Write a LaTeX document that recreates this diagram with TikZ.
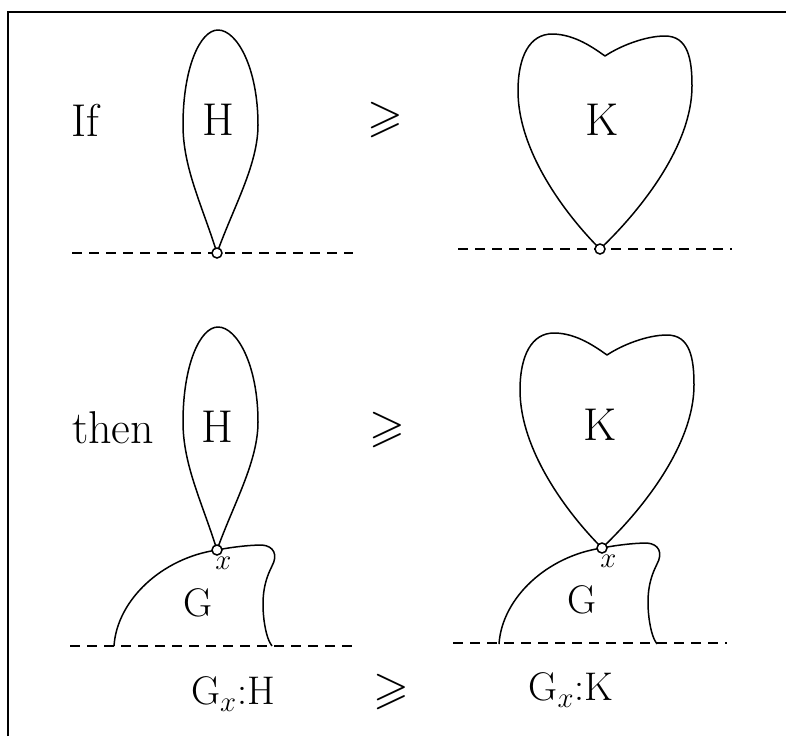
\documentclass[tikz,border=0pt]{standalone}
\usepackage{fontspec}
\usepackage{amssymb}
\usetikzlibrary{positioning}

\begin{document}
\begin{tikzpicture}[
    x=0.5pt, y=-0.5pt,
    curve/.style={line width=0.75pt, line join=round},
    ground/.style={line width=0.6pt, dash pattern=on 5pt off 3.5pt},
    frame/.style={line width=1pt},
    contact/.style={circle, draw, fill=white, line width=0.75pt, inner sep=0pt, minimum size=5pt},
    big/.style={font=\fontsize{23}{23}\selectfont, inner sep=0pt},
    mid/.style={font=\fontsize{20}{20}\selectfont, inner sep=0pt},
    small/.style={font=\fontsize{20}{20}\selectfont, inner sep=0pt},
    tiny/.style={font=\fontsize{15}{15}\selectfont, inner sep=0pt},
    petal/.pic={
        \draw[curve] (0,0) .. controls (-15,-48) and (-34,-85) .. (-34,-128)
            .. controls (-34,-185) and (-17,-223) .. (1,-223)
            .. controls (20,-223) and (41,-185) .. (41,-128)
            .. controls (41,-88) and (16,-45) .. (0,0);
    },
    heart/.pic={
        \draw[curve] (0,0) .. controls (-35,-35) and (-82,-98) .. (-82,-158)
            .. controls (-82,-193) and (-70,-215) .. (-48,-215)
            .. controls (-25,-215) and (-5,-200) .. (5,-193)
            .. controls (20,-203) and (45,-213) .. (65,-213)
            .. controls (88,-213) and (92,-190) .. (92,-163)
            .. controls (92,-103) and (40,-38) .. (0,0);
    },
    blob/.pic={
        \draw[curve] (-103,96) .. controls (-100,50) and (-55,8) .. (0,0)
            .. controls (15,-3) and (33,-5) .. (45,-5)
            .. controls (57,-4) and (61,5) .. (55,16)
            .. controls (48,30) and (44,45) .. (47,70)
            .. controls (49,85) and (52,92) .. (55,96);
    }
]
\useasboundingbox (0,0) rectangle (786,736);

% Frame
\draw[frame] (8,736) -- (8,12) -- (786,12);

% Top row
\coordinate (a1) at (72,253);
\coordinate (a2) at (353,253);
\coordinate (b1) at (458,249);
\coordinate (b2) at (732,249);
\draw[ground] (a1) -- (a2);
\draw[ground] (b1) -- (b2);
\draw (217,253) pic {petal};
\draw (600,249) pic {heart};
\node[contact] (cH1) at (217,253) {};
\node[contact] (cK1) at (600,249) {};
\node[big] (ifL) at (85,120) {If};
\node[big] (hTop) at (218,120) {H};
\node[big] (geqTop) at (385,120) {$\geqslant$};
\node[big] (kTop) at (602,120) {K};

% Second row
\coordinate (c1) at (70,646);
\coordinate (c2) at (355,646);
\coordinate (d1) at (453,643);
\coordinate (d2) at (727,643);
\draw[ground] (c1) -- (c2);
\draw[ground] (d1) -- (d2);
\draw (217,550) pic {blob};
\draw (602,548) pic {blob};
\draw (217,550) pic {petal};
\draw (602,548) pic {heart};
\node[contact] (cH2) at (217,550) {};
\node[contact] (cK2) at (602,548) {};
\node[tiny, below right=1.5pt and -3pt of cH2] (xL) {$x$};
\node[tiny, below right=1.5pt and -3pt of cK2] (xR) {$x$};
\node[big] (thenL) at (113,428) {then};
\node[big] (hBot) at (217,427) {H};
\node[big] (geqBot) at (387,430) {$\geqslant$};
\node[big] (kBot) at (600,425) {K};
\node[mid] (gL) at (198,603) {G};
\node[mid] (gR) at (582,600) {G};

% Quotients
\node[small] (quotL) at (233,694) {G$_{x}$:H};
\node[big] (geqQ) at (391,692) {$\geqslant$};
\node[small] (quotR) at (571,690) {G$_{x}$:K};

\end{tikzpicture}
\end{document}
